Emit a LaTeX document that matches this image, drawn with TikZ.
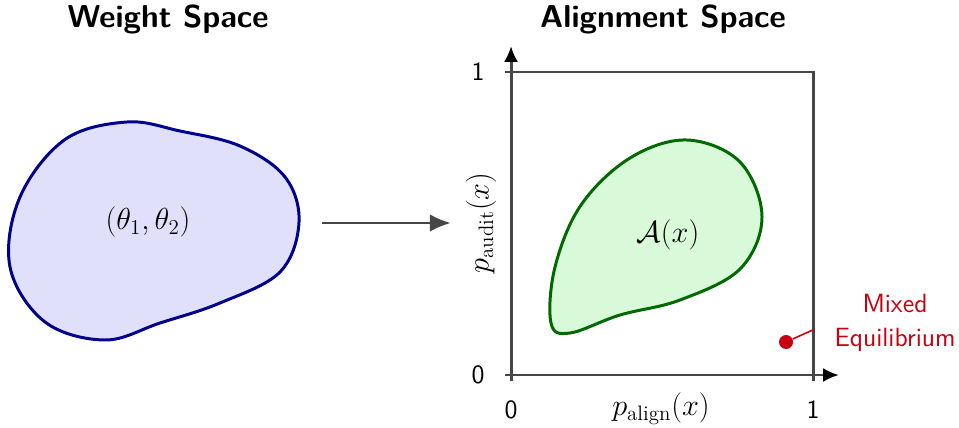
\documentclass[tikz,border=0pt]{standalone}
\usepackage{amsmath}
\usepackage{tikz}
\usetikzlibrary{positioning,arrows.meta}
\definecolor{wsblue}{RGB}{0,0,140}
\definecolor{wsfill}{RGB}{224,224,250}
\definecolor{asgreen}{RGB}{0,105,0}
\definecolor{asfill}{RGB}{216,250,216}
\definecolor{eqred}{RGB}{200,0,16}
\definecolor{axgray}{RGB}{70,70,70}

\begin{document}
\begin{tikzpicture}[
  title/.style={font=\fontsize{18}{22}\selectfont\sffamily\bfseries},
  mathlbl/.style={font=\fontsize{17}{20}\selectfont},
  tick/.style={font=\fontsize{15}{18}\selectfont\sffamily},
  axis/.style={line width=1.7pt, axgray, -{Latex[black,length=9pt,width=8pt]}},
  frame/.style={line width=1.7pt, axgray},
  map/.style={-{Latex[length=12pt,width=10pt]}, line width=1.7pt, axgray},
  eqlbl/.style={font=\fontsize{15}{19}\selectfont\sffamily, text=eqred, align=center}
]
\useasboundingbox (0,0) rectangle (19.18,8.54);

% weight space
\node[title] (wtitle) at (3.36,8.16) {Weight Space};
\draw[wsblue, line width=1.7pt, fill=wsfill]
  plot[smooth cycle, tension=0.6] coordinates {
    (2.54,6.10) (3.60,5.92) (4.80,5.62) (5.70,5.00) (5.98,4.10)
    (5.60,3.10) (4.40,2.48) (3.20,2.08) (2.10,1.74) (0.90,2.10)
    (0.20,3.20) (0.40,4.60) (1.30,5.75)};
\node[mathlbl] (theta) at (2.96,4.10) {$(\theta_1,\theta_2)$};

% map
\coordinate (mapstart) at (6.44,4.08);
\coordinate (mapend) at (9.02,4.08);
\draw[map] (mapstart) -- (mapend);

% alignment space
\node[title] (atitle) at (13.26,8.16) {Alignment Space};
\coordinate (o) at (10.22,1.04);
\coordinate (xone) at (16.26,1.04);
\coordinate (yone) at (10.22,7.10);
\coordinate (xend) at (16.78,1.04);
\coordinate (yend) at (10.22,7.62);
\draw[frame] (yone) -- (16.26,7.10) -- (xone);
\draw[axis] (o) -- (xend);
\draw[axis] (o) -- (yend);
\draw[frame] (o) -- ++(0,-0.12) (xone) -- ++(0,-0.12);
\draw[frame] (o) -- ++(-0.12,0) (yone) -- ++(-0.12,0);
\node[tick] (x0) at (10.22,0.34) {0};
\node[tick] (x1) at (16.26,0.34) {1};
\node[tick] (y0) at (9.56,1.04) {0};
\node[tick] (y1) at (9.56,7.10) {1};
\node[mathlbl] (xlab) at (13.22,0.36) {$p_{\text{align}}(x)$};
\node[mathlbl, rotate=90] (ylab) at (9.62,4.08) {$p_{\text{audit}}(x)$};

\draw[asgreen, line width=1.7pt, fill=asfill]
  plot[smooth cycle, tension=0.6] coordinates {
    (13.74,5.74) (14.80,5.30) (15.24,4.20) (14.80,3.16) (13.60,2.54)
    (12.40,2.24) (11.40,1.88) (11.02,2.08) (11.10,3.20) (11.62,4.44)
    (12.60,5.38)};
\node[mathlbl] (aset) at (13.36,3.84) {$\mathcal{A}(x)$};

% mixed equilibrium
\node[circle, fill=eqred, inner sep=0pt, minimum size=0.28cm] (eq) at (15.72,1.70) {};
\node[eqlbl] (eqtext) at (17.90,2.08) {Mixed\\Equilibrium};
\draw[eqred, line width=0.9pt, shorten >=9pt] (eq) -- (eqtext.west);
\end{tikzpicture}
\end{document}
